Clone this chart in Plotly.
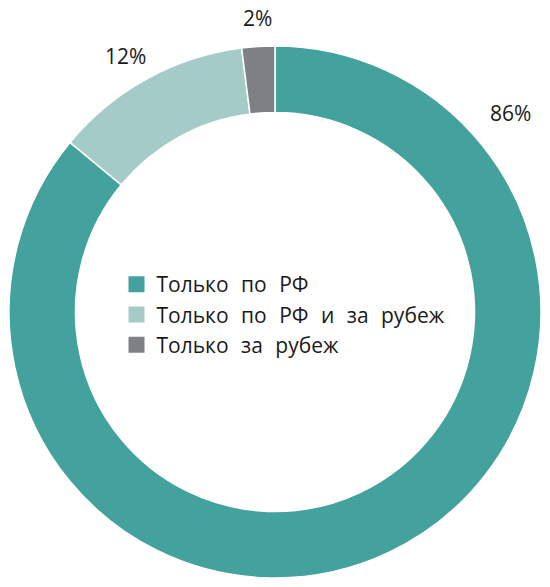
import plotly.graph_objects as go

categories = ["Только по РФ", "Только по РФ и за рубеж", "Только за рубеж"]
values = [86, 12, 2]
colors = ["#43a29d", "#a5cbc9", "#7f8085"]
label_pos = [(510, 113), (125, 56), (257, 18)]  # label pixel centers

W, H = 550, 587
cx, cy, R = 275, 312, 266
FONT = "Open Sans"

def spaced(s):
    return s.replace(" ", "\u2004 ")

fig = go.Figure(go.Pie(
    labels=categories,
    values=values,
    marker=dict(colors=colors, line=dict(color="white", width=1.5)),
    hole=0.75,
    sort=False,
    direction="clockwise",
    rotation=0,
    textinfo="none",
    hoverinfo="label+percent",
    showlegend=False,
    domain=dict(x=[(cx - R) / W, (cx + R) / W], y=[(H - cy - R) / H, (H - cy + R) / H]),
))

for name, col in zip(categories, colors):
    fig.add_trace(go.Scatter(
        x=[None], y=[None], mode="markers", name=spaced(name),
        marker=dict(symbol="square", size=18, color=col),
        hoverinfo="skip",
    ))

annotations = []
for v, (px, py) in zip(values, label_pos):
    annotations.append(dict(
        text=f"{v}%", x=px / W, y=1 - py / H, xref="paper", yref="paper",
        showarrow=False, font=dict(size=21, color="#1a1a1a", family=FONT),
        xanchor="center", yanchor="middle",
    ))

fig.update_layout(
    width=W, height=H,
    margin=dict(l=0, r=0, t=0, b=0),
    paper_bgcolor="white",
    plot_bgcolor="white",
    font=dict(family=FONT, color="#1a1a1a", size=21),
    xaxis=dict(visible=False),
    yaxis=dict(visible=False),
    legend=dict(x=116.5 / W, y=1 - 264 / H, xanchor="left", yanchor="top",
                font=dict(size=21), itemwidth=30, itemsizing="trace",
                bgcolor="rgba(0,0,0,0)"),
    annotations=annotations,
)

fig.write_html("out.html", config={"displayModeBar": False},
               post_script="document.body.style.margin='0';")
